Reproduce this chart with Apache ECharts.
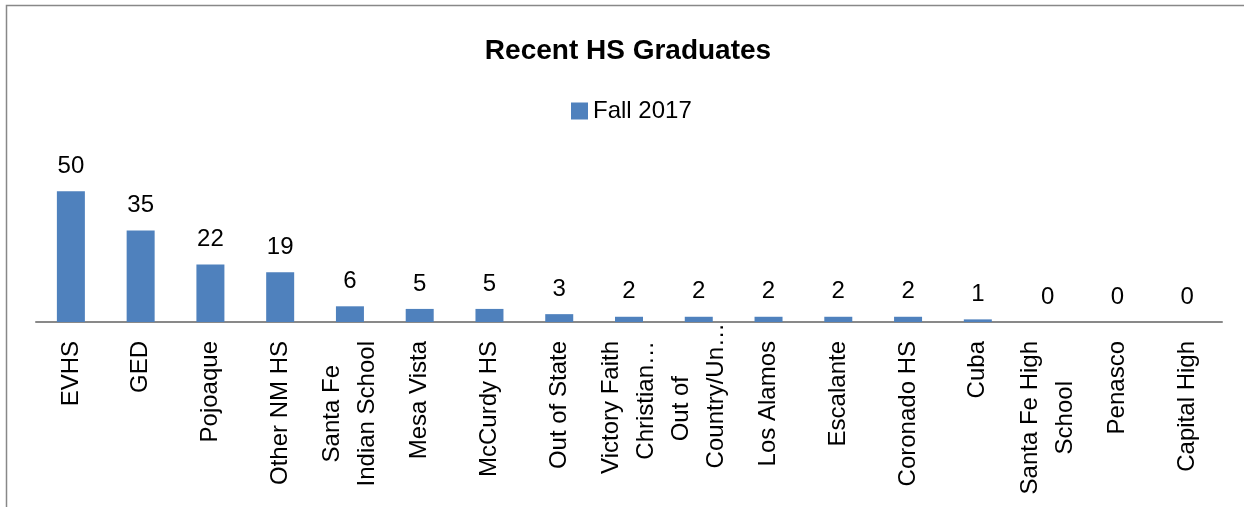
<!DOCTYPE html>
<html>
<head>
<meta charset="utf-8">
<script src="https://cdn.jsdelivr.net/npm/echarts@6/dist/echarts.min.js"></script>
<style>
  html, body { margin: 0; padding: 0; background: #ffffff; }
  #chart { width: 1244px; height: 507px; }
</style>
</head>
<body>
<div id="chart"></div>
<script>
const titleText = "Recent HS Graduates";
const seriesName = "Fall 2017";
const categories = [
  "EVHS", "GED", "Pojoaque", "Other NM HS", "Santa Fe\nIndian School",
  "Mesa Vista", "McCurdy HS", "Out of State", "Victory Faith\nChristian…",
  "Out of\nCountry/Un…", "Los Alamos", "Escalante", "Coronado HS", "Cuba",
  "Santa Fe High\nSchool", "Penasco", "Capital High"
];
const values = [50, 35, 22, 19, 6, 5, 5, 3, 2, 2, 2, 2, 2, 1, 0, 0, 0];

const FONT = '"Liberation Sans", Arial, sans-serif';
const LABEL_SIZE = 24;
const LABEL_LH = 35;
const LABEL_GAP = 19;               // distance from axis line to end of label text
// Layout of wrapped labels (styling only): 'center' centres lines in block,
// 'top' aligns all to the axis; arrays give explicit per-line gaps.
const wrapLayout = { 4: 'center', 8: 'top', 9: [54, 1], 14: 'center' };

const ctx = document.createElement('canvas').getContext('2d');
ctx.font = LABEL_SIZE + 'px ' + FONT;
const rich = { c: { fontFamily: FONT, fontSize: LABEL_SIZE, lineHeight: LABEL_LH, color: '#000000' } };
function spacer(name, w) {
  if (w < 0.5) return '';
  rich[name] = { width: w, height: 1, lineHeight: LABEL_LH, fontSize: LABEL_SIZE };
  return '{' + name + '|}';
}
const labelText = categories.map(function (c, i) {
  const lines = c.split('\n');
  const widths = lines.map(function (l) { return ctx.measureText(l).width; });
  const W = Math.max.apply(null, widths);
  const mode = wrapLayout[i] || 'top';
  const gaps = lines.map(function (l, j) {
    if (Array.isArray(mode)) return mode[j];
    if (mode === 'center') return LABEL_GAP + (W - widths[j]) / 2;
    return LABEL_GAP;
  });
  const T = Math.max.apply(null, widths.map(function (w, j) { return w + gaps[j]; }));
  return lines.map(function (l, j) {
    const bottom = T - widths[j] - gaps[j];
    // local left = screen bottom, local right = screen top (rotated 90°)
    return spacer('b' + i + '_' + j, bottom) + '{c|' + l + '}' + spacer('t' + i + '_' + j, gaps[j]);
  }).join('\n');
});

const chart = echarts.init(document.getElementById('chart'), null, { renderer: 'canvas' });

chart.setOption({
  backgroundColor: '#ffffff',
  animation: false,
  title: {
    text: titleText,
    left: 628,
    textAlign: 'center',
    top: 36,
    padding: 0,
    textStyle: { fontFamily: FONT, fontWeight: 'bold', fontSize: 28, lineHeight: 30, color: '#000000' }
  },
  legend: {
    data: [seriesName],
    left: 571,
    top: 98,
    padding: 0,
    itemWidth: 17,
    itemHeight: 17,
    icon: 'rect',
    itemGap: 5,
    textStyle: { fontFamily: FONT, fontSize: 24, lineHeight: 26, color: '#000000' }
  },
  grid: { left: 36, right: 22, top: 165, bottom: 185, containLabel: false },
  xAxis: {
    type: 'category',
    data: categories,
    axisLine: { show: true, lineStyle: { color: '#898989', width: 2 } },
    axisTick: { show: false },
    axisLabel: {
      interval: 0,
      rotate: 90,
      margin: 0,
      color: '#000000',
      fontFamily: FONT,
      fontSize: LABEL_SIZE,
      lineHeight: LABEL_LH,
      formatter: function (v, idx) { return labelText[idx]; },
      rich: rich
    }
  },
  yAxis: {
    type: 'value',
    min: 0,
    max: 60,
    interval: 10,
    show: false,
    splitLine: { show: false }
  },
  series: [{
    name: seriesName,
    type: 'bar',
    data: values,
    barWidth: 28,
    itemStyle: { color: '#4F81BD' },
    label: {
      show: true,
      position: 'top',
      distance: 10,
      color: '#000000',
      fontFamily: FONT,
      fontSize: 24,
      lineHeight: 30
    }
  }],
  graphic: [{
    type: 'polyline',
    silent: true,
    shape: { points: [[6.5, 507], [6.5, 5.5], [1244, 5.5]] },
    style: { stroke: '#888888', lineWidth: 1.5, fill: null }
  }]
});
</script>
</body>
</html>
